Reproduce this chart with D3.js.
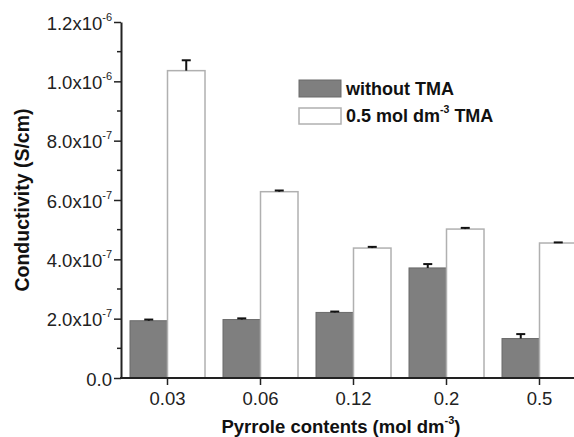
<!DOCTYPE html>
<html>
<head>
<meta charset="utf-8">
<script src="https://cdn.jsdelivr.net/npm/d3@7"></script>
<style>
  body { margin: 0; background: #fff; }
  svg { display: block; font-family: "Liberation Sans", Arial, sans-serif; }
</style>
</head>
<body>
<script>
// data
var categories = ["0.03", "0.06", "0.12", "0.2", "0.5"];
var withoutTMA = [1.93e-7, 1.97e-7, 2.21e-7, 3.71e-7, 1.33e-7];
var withoutErr = [0.04e-7, 0.04e-7, 0.03e-7, 0.13e-7, 0.15e-7];
var withTMA = [1.036e-6, 6.28e-7, 4.38e-7, 5.02e-7, 4.55e-7];
var withErr = [0.035e-6, 0.04e-7, 0.04e-7, 0.04e-7, 0.02e-7];
var seriesNames = ["without TMA", "0.5 mol dm", " TMA"];
var yTicks = [0, 2e-7, 4e-7, 6e-7, 8e-7, 1.0e-6, 1.2e-6];
var yTickLabels = ["0.0", "2.0x10|-7", "4.0x10|-7", "6.0x10|-7", "8.0x10|-7", "1.0x10|-6", "1.2x10|-6"];

// set the dimensions and margins of the graph
var margin = {top: 22, right: 0, bottom: 59, left: 121},
    width = 465,
    height = 356;

var x = d3.scaleBand()
          .domain(categories)
          .range([0, width]);
var y = d3.scaleLinear()
          .domain([0, 1.2e-6])
          .range([height, 0]);

var svg = d3.select("body").append("svg")
    .attr("width", 574)
    .attr("height", 437)
  .append("g")
    .attr("transform", "translate(" + margin.left + "," + margin.top + ")");

var barW = 37.5;
var grayFill = "#7f7f7f";

// gray bars (left of tick)
svg.selectAll(".bar0")
    .data(withoutTMA)
  .enter().append("rect")
    .attr("class", "bar0")
    .attr("x", function(d, i) { return x(categories[i]) + x.bandwidth() / 2 - barW; })
    .attr("width", barW)
    .attr("y", function(d) { return y(d); })
    .attr("height", function(d) { return height - y(d); })
    .attr("fill", grayFill)
    .attr("stroke", "#6a6a6a")
    .attr("stroke-width", 1);

// white bars (right of tick)
svg.selectAll(".bar1")
    .data(withTMA)
  .enter().append("rect")
    .attr("class", "bar1")
    .attr("x", function(d, i) { return x(categories[i]) + x.bandwidth() / 2; })
    .attr("width", barW)
    .attr("y", function(d) { return y(d); })
    .attr("height", function(d) { return height - y(d); })
    .attr("fill", "#fff")
    .attr("stroke", "#b0b0b0")
    .attr("stroke-width", 1.5);

// error bars (upper only)
function errBars(vals, errs, offset) {
  vals.forEach(function(v, i) {
    var cx = x(categories[i]) + x.bandwidth() / 2 + offset;
    svg.append("line")
        .attr("x1", cx).attr("x2", cx)
        .attr("y1", y(v)).attr("y2", y(v + errs[i]))
        .attr("stroke", "#111").attr("stroke-width", 2);
    svg.append("line")
        .attr("x1", cx - 4.5).attr("x2", cx + 4.5)
        .attr("y1", y(v + errs[i])).attr("y2", y(v + errs[i]))
        .attr("stroke", "#111").attr("stroke-width", 2);
  });
}
errBars(withoutTMA, withoutErr, -barW / 2);
errBars(withTMA, withErr, barW / 2);

// x axis
var xAxis = svg.append("g")
    .attr("transform", "translate(0," + height + ")")
    .call(d3.axisBottom(x).tickSize(7).tickSizeOuter(0).tickPadding(7));
xAxis.select(".domain").attr("stroke", "#222").attr("stroke-width", 2).attr("d", "M-1,0H" + (width + 10));
xAxis.selectAll(".tick line").attr("stroke", "#222").attr("stroke-width", 1.5);
xAxis.selectAll(".tick text").attr("font-size", 18.5).attr("fill", "#222").attr("font-family", "Liberation Sans, Arial, sans-serif");

// y axis minor ticks
var minor = d3.range(1, 12, 2).map(function(k) { return k * 1e-7; });
svg.selectAll(".minor")
    .data(minor)
  .enter().append("line")
    .attr("x1", -4).attr("x2", 0)
    .attr("y1", function(d) { return y(d); })
    .attr("y2", function(d) { return y(d); })
    .attr("stroke", "#222").attr("stroke-width", 1.5);

// y axis
var yAxis = svg.append("g")
    .call(d3.axisLeft(y).tickValues(yTicks).tickSize(7).tickSizeOuter(0).tickFormat(""));
yAxis.select(".domain").attr("stroke", "#222").attr("stroke-width", 2);
yAxis.selectAll(".tick line").attr("stroke", "#222").attr("stroke-width", 1.5);

// superscript helper: shift in px so the size change does not matter
function sup(text, base, exp, rest, size) {
  text.append("tspan").text(base);
  if (exp) text.append("tspan").attr("font-size", size).attr("dy", -9).text(exp);
  if (rest) text.append("tspan").attr("dy", 9).text(rest);
}

yAxis.selectAll(".tick").each(function(d, i) {
  var parts = yTickLabels[i].split("|");
  var t = d3.select(this).append("text")
      .attr("x", -9)
      .attr("y", 7)
      .attr("text-anchor", "end")
      .attr("fill", "#222")
      .attr("font-size", 18.5);
  sup(t, parts[0], parts[1], null, 11);
});

// axis titles
svg.append("text")
    .attr("transform", "translate(" + (29 - margin.left) + "," + (200 - margin.top) + ") rotate(-90)")
    .attr("text-anchor", "middle")
    .attr("font-size", 19.5)
    .attr("font-weight", "bold")
    .attr("fill", "#111")
    .text("Conductivity (S/cm)");

var xt = svg.append("text")
    .attr("x", 341 - margin.left)
    .attr("y", 433 - margin.top)
    .attr("text-anchor", "middle")
    .attr("font-size", 18.5)
    .attr("font-weight", "bold")
    .attr("fill", "#111");
sup(xt, "Pyrrole contents (mol dm", "-3", ")", 11);

// legend
var lg = svg.append("g").attr("transform", "translate(" + (299 - margin.left) + "," + (80 - margin.top) + ")");
lg.append("rect").attr("width", 42).attr("height", 17).attr("fill", grayFill).attr("stroke", "#6a6a6a");
lg.append("rect").attr("y", 28).attr("width", 42).attr("height", 16).attr("fill", "#fff").attr("stroke", "#b0b0b0").attr("stroke-width", 1.5);
lg.append("text").attr("x", 47).attr("y", 15)
    .attr("font-size", 18).attr("font-weight", "bold").attr("fill", "#111").text(seriesNames[0]);
var l2 = lg.append("text").attr("x", 47).attr("y", 42)
    .attr("font-size", 18).attr("font-weight", "bold").attr("fill", "#111");
sup(l2, seriesNames[1], "-3", seriesNames[2], 10.5);
</script>
</body>
</html>
